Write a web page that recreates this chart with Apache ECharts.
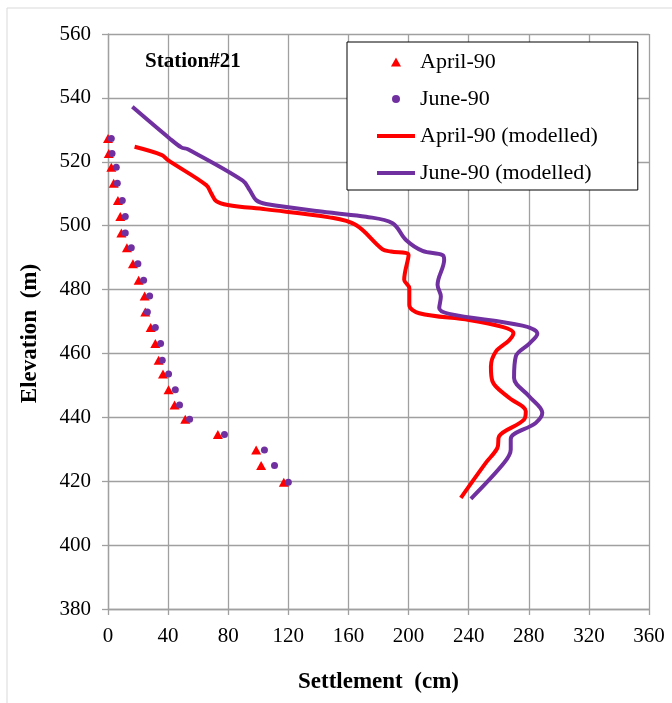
<!DOCTYPE html>
<html>
<head>
<meta charset="utf-8">
<script src="https://cdn.jsdelivr.net/npm/echarts@6/dist/echarts.min.js"></script>
<style>
  html, body { margin: 0; padding: 0; background: #fff; }
  #chart { width: 672px; height: 703px; }
</style>
</head>
<body>
<div id="chart"></div>
<script>
// observed settlement (cm) at each elevation (m)
var elevObs = [527.3, 522.6, 518.3, 513.3, 507.9, 502.9, 497.7, 493.1, 488.1, 482.9, 478, 473,
  468.1, 463.1, 457.9, 453.6, 448.6, 443.9, 439.4, 434.6, 429.8, 424.9, 419.7];
var april90 = [0, 0.5, 2.2, 3.8, 6.6, 8.2, 8.9, 12.6, 16.6, 20.4, 24.4, 24.8,
  28.4, 31.5, 33.7, 36.6, 40.3, 44.3, 51.4, 73.1, 98.6, 101.9, 117];
var june90 = [2.2, 2.7, 5.5, 6.2, 9.5, 11.5, 11.5, 15.5, 19.9, 23.7, 27.7, 26.2,
  31.5, 35, 36.1, 40.3, 44.8, 47.6, 54.3, 77.5, 104.1, 110.8, 120];

// modelled profiles
var aprModelX = [17.7, 35.9, 39.9, 65.4, 68.7, 72.0, 79.7, 105.2, 147.3, 165, 182.7, 188.3, 200, 197.1,
  200.5, 200.5, 207.1, 240.3, 262.5, 269.8, 266.9, 258.1, 254.8, 255.8, 266.9, 278, 276.9, 260.3,
  259.1, 251.4, 234.8];
var aprModelY = [524.7, 522.1, 520.5, 512.7, 510.1, 507.7, 506.5, 505.1, 502.6, 500.2, 492.6, 491.9,
  490.8, 483.1, 480.4, 475.2, 472.6, 470.5, 468.3, 466.4, 464.1, 460.6, 455.9, 451.3, 446.1, 441.9,
  439.3, 434.1, 430.4, 425.75, 414.8];
var junModelX = [16.2, 41, 48.8, 53.2, 89.7, 94.2, 98.6, 105.2, 147.3, 171.7, 189.4, 198.3, 209.3,
  222.6, 223.7, 219.3, 221.5, 220.4, 227, 275.8, 285.7, 280.2, 271.4, 270.2, 280.2, 289, 284.6, 268,
  268, 263.6, 241.5];
var junModelY = [537.2, 527.3, 524.5, 523.9, 514.1, 511.2, 508, 506.8, 504.1, 502.8, 500.75, 495.5,
  492.1, 490.8, 489.3, 481.5, 477.8, 474.2, 472.4, 468.7, 466.2, 463, 459.1, 452.3, 446.6, 441.4,
  438.25, 433.25, 429.9, 425.75, 414.5];

var xTicks = { min: 0, max: 360, interval: 40 };
var yTicks = { min: 380, max: 560, interval: 20 };

function pairs(xs, ys) {
  var out = [];
  for (var i = 0; i < xs.length; i++) out.push([xs[i], ys[i]]);
  return out;
}

var chart = echarts.init(document.getElementById("chart"));
var serif = "Liberation Serif";
var gridColor = "#A0A0A0";

// small triangle centred in the 38x10 legend slot
var triIcon = "path://M0,0 M38,10 M19,0.5 L24,9.5 L14,9.5 Z";
var dotIcon = "path://M0,0 M38,10 M23,5 A4,4 0 1 1 15,5 A4,4 0 1 1 23,5 Z";

var option = {
  animation: false,
  backgroundColor: "#fff",
  textStyle: { fontFamily: serif },
  title: {
    text: "Station#21",
    left: 140,
    top: 46,
    textStyle: { fontFamily: serif, fontSize: 21, fontWeight: "bold", color: "#000" },
  },
  graphic: [
    {
      type: "rect",
      shape: { x: 7, y: 8, width: 700, height: 720 },
      style: { fill: null, stroke: "#D9D9D9", lineWidth: 1 },
      silent: true,
    },
  ],
  legend: {
    orient: "vertical",
    left: 347,
    top: 42,
    padding: [8, 40, 5, 28],
    itemWidth: 38,
    itemHeight: 10,
    itemGap: 13,
    backgroundColor: "#fff",
    borderColor: "#000",
    borderWidth: 1,
    selectedMode: false,
    textStyle: { fontFamily: serif, fontSize: 22, color: "#000", lineHeight: 24 },
    data: [
      { name: "April-90", icon: triIcon },
      { name: "June-90", icon: dotIcon },
      { name: "April-90 (modelled)", itemStyle: { opacity: 0 }, lineStyle: { width: 4 } },
      { name: "June-90 (modelled)", itemStyle: { opacity: 0 }, lineStyle: { width: 4 } },
    ],
  },
  grid: { left: 108, right: 23, top: 34, bottom: 94 },
  xAxis: {
    type: "value",
    min: xTicks.min,
    max: xTicks.max,
    interval: xTicks.interval,
    name: "Settlement  (cm)",
    nameLocation: "middle",
    nameGap: 62,
    nameTextStyle: { fontFamily: serif, fontSize: 23, fontWeight: "bold", color: "#000" },
    axisLine: { show: true, lineStyle: { color: gridColor, width: 1.3 } },
    axisTick: { show: true, length: 6, lineStyle: { color: gridColor, width: 1.3 } },
    axisLabel: { margin: 17, fontFamily: serif, fontSize: 21, color: "#000" },
    splitLine: { show: true, lineStyle: { color: gridColor, width: 1.3 } },
  },
  yAxis: {
    type: "value",
    min: yTicks.min,
    max: yTicks.max,
    interval: yTicks.interval,
    name: "Elevation  (m)",
    nameLocation: "middle",
    nameGap: 66,
    nameTextStyle: {
      fontFamily: serif, fontSize: 23, fontWeight: "bold", color: "#000",
      padding: [0, 24, 0, 0],
    },
    axisLine: { show: true, lineStyle: { color: gridColor, width: 1.3 } },
    axisTick: { show: true, length: 6, lineStyle: { color: gridColor, width: 1.3 } },
    axisLabel: { margin: 17, fontFamily: serif, fontSize: 21, color: "#000" },
    splitLine: { show: true, lineStyle: { color: gridColor, width: 1.3 } },
  },
  series: [
    {
      name: "April-90",
      type: "scatter",
      symbol: "triangle",
      symbolSize: [10, 9],
      itemStyle: { color: "#FF0000", opacity: 1 },
      data: pairs(april90, elevObs),
      z: 3,
    },
    {
      name: "June-90",
      type: "scatter",
      symbol: "circle",
      symbolSize: 7,
      itemStyle: { color: "#7030A0", opacity: 1 },
      data: pairs(june90, elevObs),
      z: 4,
    },
    {
      name: "April-90 (modelled)",
      type: "line",
      symbol: "none",
      smooth: 0.35,
      lineStyle: { color: "#FF0000", width: 4 },
      itemStyle: { color: "#FF0000" },
      data: pairs(aprModelX, aprModelY),
      z: 2,
    },
    {
      name: "June-90 (modelled)",
      type: "line",
      symbol: "none",
      smooth: 0.35,
      lineStyle: { color: "#7030A0", width: 4 },
      itemStyle: { color: "#7030A0" },
      data: pairs(junModelX, junModelY),
      z: 2,
    },
  ],
};

chart.setOption(option);
</script>
</body>
</html>
